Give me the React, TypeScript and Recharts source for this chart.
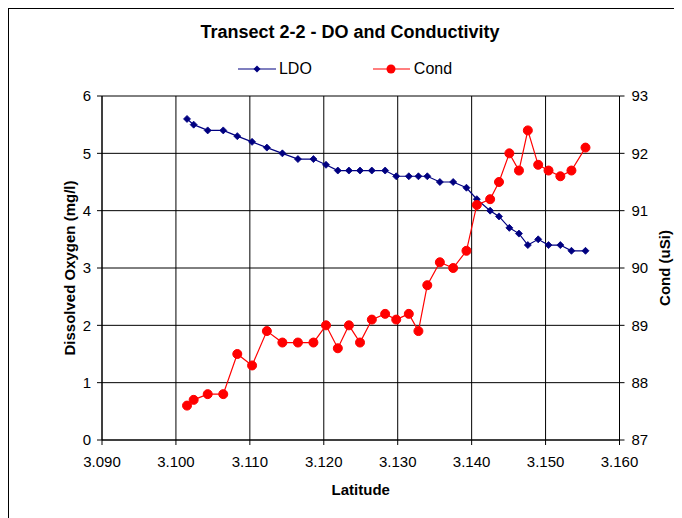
import React from 'react';
import { ComposedChart, Line, CartesianGrid, XAxis, YAxis, Legend } from 'recharts';

const latitude = [3.1015, 3.1024, 3.1043, 3.1064, 3.1083, 3.1103, 3.1123, 3.1144, 3.1165, 3.1186, 3.1203, 3.1219, 3.1234, 3.1249, 3.1265, 3.1283, 3.1298, 3.1315, 3.1328, 3.134, 3.1357, 3.1375, 3.1393, 3.1407, 3.1425, 3.1437, 3.1451, 3.1464, 3.1476, 3.149, 3.1504, 3.152, 3.1535, 3.1554];
const ldo = [5.6, 5.5, 5.4, 5.4, 5.3, 5.2, 5.1, 5.0, 4.9, 4.9, 4.8, 4.7, 4.7, 4.7, 4.7, 4.7, 4.6, 4.6, 4.6, 4.6, 4.5, 4.5, 4.4, 4.2, 4.0, 3.9, 3.7, 3.6, 3.4, 3.5, 3.4, 3.4, 3.3, 3.3];
const cond = [87.6, 87.7, 87.8, 87.8, 88.5, 88.3, 88.9, 88.7, 88.7, 88.7, 89.0, 88.6, 89.0, 88.7, 89.1, 89.2, 89.1, 89.2, 88.9, 89.7, 90.1, 90.0, 90.3, 91.1, 91.2, 91.5, 92.0, 91.7, 92.4, 91.8, 91.7, 91.6, 91.7, 92.1];

const xTicks = [3.09, 3.1, 3.11, 3.12, 3.13, 3.14, 3.15, 3.16];
const doTicks = [0, 1, 2, 3, 4, 5, 6];
const condTicks = [87, 88, 89, 90, 91, 92, 93];

const data = latitude.map((lat, i) => ({ lat, ldo: ldo[i], cond: cond[i] }));

const FONT = '"Liberation Sans", Arial, sans-serif';
const NAVY = '#000080';
const RED = '#ff0000';

const tickStyle = { fill: '#000', fontSize: 15, fontFamily: FONT };
const labelStyle = { fill: '#000', fontSize: 15, fontWeight: 'bold' as const, fontFamily: FONT, textAnchor: 'middle' as const };

const Diamond = (props: any) => {
  const { cx, cy, index } = props;
  if (cx == null || cy == null) return <g key={`d-${index}`} />;
  return <path key={`d-${index}`} d={`M${cx},${cy - 3.5}L${cx + 3.5},${cy}L${cx},${cy + 3.5}L${cx - 3.5},${cy}Z`} fill={NAVY} stroke={NAVY} strokeWidth={0.8} />;
};

const Dot = (props: any) => {
  const { cx, cy, index } = props;
  if (cx == null || cy == null) return <g key={`c-${index}`} />;
  return <circle key={`c-${index}`} cx={cx} cy={cy} r={4.5} fill={RED} stroke={RED} />;
};

const LegendBox = () => (
  <div style={{ display: 'flex', justifyContent: 'center', alignItems: 'center', fontFamily: FONT, fontSize: 16 }}>
    <svg width={38} height={14}>
      <line x1={0} y1={7} x2={38} y2={7} stroke={NAVY} strokeWidth={1.2} />
      <path d="M19,3.5L22.5,7L19,10.5L15.5,7Z" fill={NAVY} />
    </svg>
    <span style={{ marginLeft: 3, marginRight: 61 }}>LDO</span>
    <svg width={37} height={14}>
      <line x1={0} y1={7} x2={37} y2={7} stroke={RED} strokeWidth={1.2} />
      <circle cx={18} cy={7} r={4.5} fill={RED} />
    </svg>
    <span style={{ marginLeft: 4 }}>Cond</span>
  </div>
);

const App = () => (
  <div style={{ position: 'relative', width: 672, height: 510, border: '1px solid #000', background: '#fff' }}>
    <div style={{ position: 'absolute', top: 13, left: 5, width: 672, textAlign: 'center', fontFamily: FONT, fontWeight: 'bold', fontSize: 18, zIndex: 2 }}>
      Transect 2-2 - DO and Conductivity
    </div>
    <ComposedChart width={672} height={510} data={data} margin={{ top: 87, right: 0, bottom: 39, left: 0 }}>
      <CartesianGrid yAxisId="left" stroke="#000" strokeWidth={1} />
      <XAxis
        dataKey="lat"
        type="number"
        domain={[3.09, 3.16]}
        ticks={xTicks}
        tickFormatter={(v: number) => v.toFixed(3)}
        height={40}
        tickSize={5}
        tickMargin={11}
        stroke="#000"
        tick={tickStyle}
        label={{ value: 'Latitude', position: 'bottom', offset: 4, style: labelStyle }}
      />
      <YAxis
        yAxisId="left"
        domain={[0, 6]}
        ticks={doTicks}
        width={93}
        tickSize={5}
        tickMargin={6}
        stroke="#000"
        tick={tickStyle}
        label={{ value: 'Dissolved Oxygen (mg/l)', angle: -90, position: 'insideLeft', offset: 61, style: labelStyle }}
      />
      <YAxis
        yAxisId="right"
        orientation="right"
        domain={[87, 93]}
        ticks={condTicks}
        width={61.5}
        tickSize={5}
        tickMargin={7}
        stroke="#000"
        tick={tickStyle}
        label={{ value: 'Cond (uSi)', angle: -90, position: 'insideRight', offset: 16, style: labelStyle }}
      />
      <Legend layout="horizontal" verticalAlign="middle" align="center" content={<LegendBox />} wrapperStyle={{ top: 51, left: 0, width: 672 }} />
      <Line yAxisId="left" dataKey="ldo" name="LDO" stroke={NAVY} strokeWidth={1.2} dot={Diamond} isAnimationActive={false} />
      <Line yAxisId="right" dataKey="cond" name="Cond" stroke={RED} strokeWidth={1.2} dot={Dot} isAnimationActive={false} />
    </ComposedChart>
  </div>
);

export default App;
